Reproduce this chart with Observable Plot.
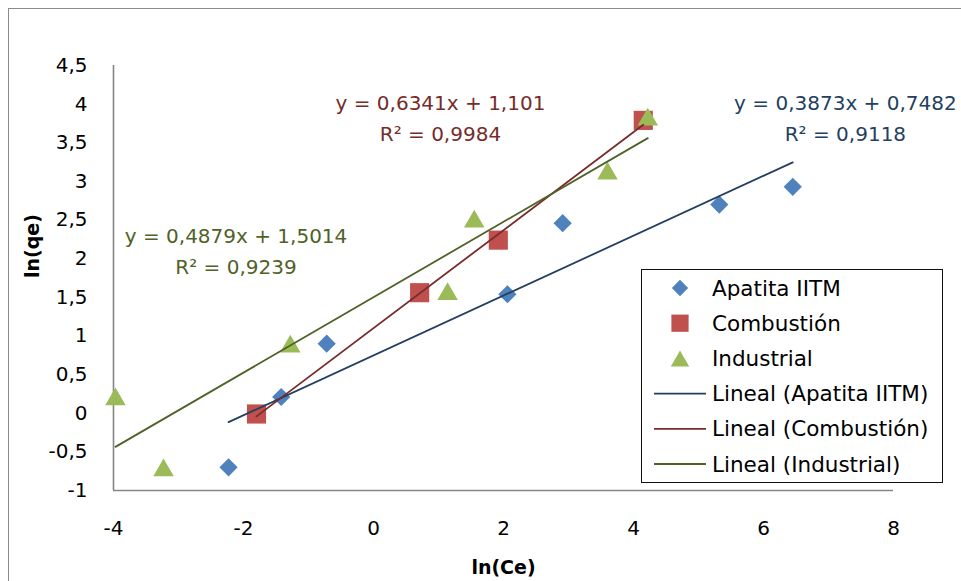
<!DOCTYPE html>
<html><head><meta charset="utf-8">
<script src="https://cdn.jsdelivr.net/npm/d3@7"></script>
<script src="https://cdn.jsdelivr.net/npm/@observablehq/plot@0.6"></script>
<style>
body{margin:0;background:#fff;overflow:hidden;font-family:"DejaVu Sans",sans-serif;}
#wrap{position:relative;width:961px;height:581px;overflow:hidden;background:#fff;}
#border{position:absolute;left:8px;top:8px;width:1000px;height:1000px;border:1.5px solid #8a8a8a;box-sizing:border-box;}
#wrap svg{position:absolute;left:0;top:0;overflow:visible;}
#legend{position:absolute;left:641px;top:269px;width:302px;height:214px;border:1.3px solid #111;box-sizing:border-box;background:#fff;}
</style></head><body><div id="wrap"><div id="border"></div></div>
<script>
// ---- data ----
const series = ["Apatita IITM", "Combustión", "Industrial"];
const apatitaX = [-2.23, -1.42, -0.72, 2.06, 2.91, 5.32, 6.45];
const apatitaY = [-0.70, 0.21, 0.90, 1.54, 2.46, 2.70, 2.93];
const combustionX = [-1.80, 0.71, 1.92, 4.15];
const combustionY = [-0.01, 1.56, 2.24, 3.79];
const industrialX = [-3.97, -3.23, -1.28, 1.14, 1.55, 3.60, 4.22];
const industrialY = [0.22, -0.70, 0.90, 1.58, 2.52, 3.14, 3.84];
const slopes = [0.3873, 0.6341, 0.4879];
const intercepts = [0.7482, 1.101, 1.5014];
const r2 = [0.9118, 0.9984, 0.9239];
const xTicks = [-4, -2, 0, 2, 4, 6, 8];
const yTicks = [-1, -0.5, 0, 0.5, 1, 1.5, 2, 2.5, 3, 3.5, 4, 4.5];

// ---- styles / layout ----
const markerColors = ["#4F81BD", "#C0504D", "#9BBB59"];
const lineColors = ["#243F60", "#772C2A", "#4F6228"];
const symbols = ["diamond2", "square", "triangle"];
const radii = [8.2, 10.8, 7.6];
const symbolDy = [0, 0, 3];
const labelPos = [{x: 7.26, y: 3.847}, {x: 1.03, y: 3.847}, {x: -2.115, y: 2.133}];

const fmt = v => String(v).replace(".", ",").replace("−", "-");
const xs = [apatitaX, combustionX, industrialX];
const ys = [apatitaY, combustionY, industrialY];

const points = series.map((s, i) => xs[i].map((x, j) => ({s: i, x, y: ys[i][j]})));
const trends = series.map((s, i) => {
  const lo = d3.min(xs[i]), hi = d3.max(xs[i]);
  return [lo, hi].map(x => ({s: i, x, y: slopes[i] * x + intercepts[i]}));
});
const labels = series.map((s, i) => ({
  ...labelPos[i], s: i,
  text: `y = ${fmt(slopes[i])}x + ${fmt(intercepts[i])}\nR² = ${fmt(r2[i])}`
}));

const marks = [
  Plot.ruleX([-4], {stroke: "#868686", strokeWidth: 1.6}),
  Plot.ruleY([-1], {stroke: "#868686", strokeWidth: 1.6}),
  Plot.axisX({ticks: xTicks, tickFormat: fmt, tickSize: 0, tickPadding: 30, label: null, fill: "#000"}),
  Plot.axisY({ticks: yTicks, tickFormat: fmt, tickSize: 0, tickPadding: 26, label: null, fill: "#000"})
];
points.forEach((p, i) => marks.push(Plot.dot(p, {x: "x", y: "y", symbol: () => symbols[i], r: radii[i], dy: symbolDy[i], fill: markerColors[i], stroke: "none"})));
trends.forEach((t, i) => marks.push(Plot.line(t, {x: "x", y: "y", stroke: lineColors[i], strokeWidth: 1.8})));
labels.forEach((l, i) => marks.push(Plot.text([l], {x: "x", y: "y", text: "text", fill: lineColors[i], fontSize: 20, lineHeight: 1.55, lineAnchor: "middle", textAnchor: "middle"})));
marks.push(Plot.text(["ln(Ce)"], {text: d => d, frameAnchor: "bottom", dy: 77, lineAnchor: "middle", fontWeight: "bold", fontSize: 19, fill: "#000"}));
marks.push(Plot.text(["ln(qe)"], {text: d => d, frameAnchor: "left", dx: -81, rotate: -90, lineAnchor: "middle", fontWeight: "bold", fontSize: 19, fill: "#000"}));

const chart = Plot.plot({
  width: 961, height: 581,
  marginLeft: 113, marginRight: 68, marginTop: 65, marginBottom: 91,
  x: {domain: [-4, 8]},
  y: {domain: [-1, 4.5]},
  symbol: {type: "identity"},
  style: {fontFamily: "DejaVu Sans", fontSize: "20px", background: "transparent", color: "#000"},
  marks
});
const wrap = document.getElementById("wrap");
wrap.appendChild(chart);

// ---- legend ----
const legend = document.createElement("div");
legend.id = "legend";
wrap.appendChild(legend);
const lsvg = d3.select(legend).append("svg").attr("width", 300).attr("height", 212).style("position", "absolute").style("left", "0").style("top", "0");
const symMap = {diamond2: d3.symbolDiamond2, square: d3.symbolSquare, triangle: d3.symbolTriangle};
const rowY = k => 18 + k * 35.2;
const legendItems = [];
series.forEach((s, i) => legendItems.push({kind: "marker", i, text: s}));
series.forEach((s, i) => legendItems.push({kind: "line", i, text: `Lineal (${s})`}));
legendItems.forEach((it, k) => {
  const cy = rowY(k);
  if (it.kind === "marker") {
    const r = radii[it.i] * 0.9;
    lsvg.append("path").attr("d", d3.symbol(symMap[symbols[it.i]], Math.PI * r * r)()).attr("transform", `translate(38,${cy + symbolDy[it.i] * 0.9})`).attr("fill", markerColors[it.i]);
  } else {
    lsvg.append("line").attr("x1", 12).attr("x2", 64).attr("y1", cy).attr("y2", cy).attr("stroke", lineColors[it.i]).attr("stroke-width", 1.8);
  }
  lsvg.append("text").attr("x", 70).attr("y", cy).attr("dy", "0.35em").attr("font-family", "DejaVu Sans").attr("font-size", 21.5).attr("fill", "#000").text(it.text);
});
</script></body></html>
